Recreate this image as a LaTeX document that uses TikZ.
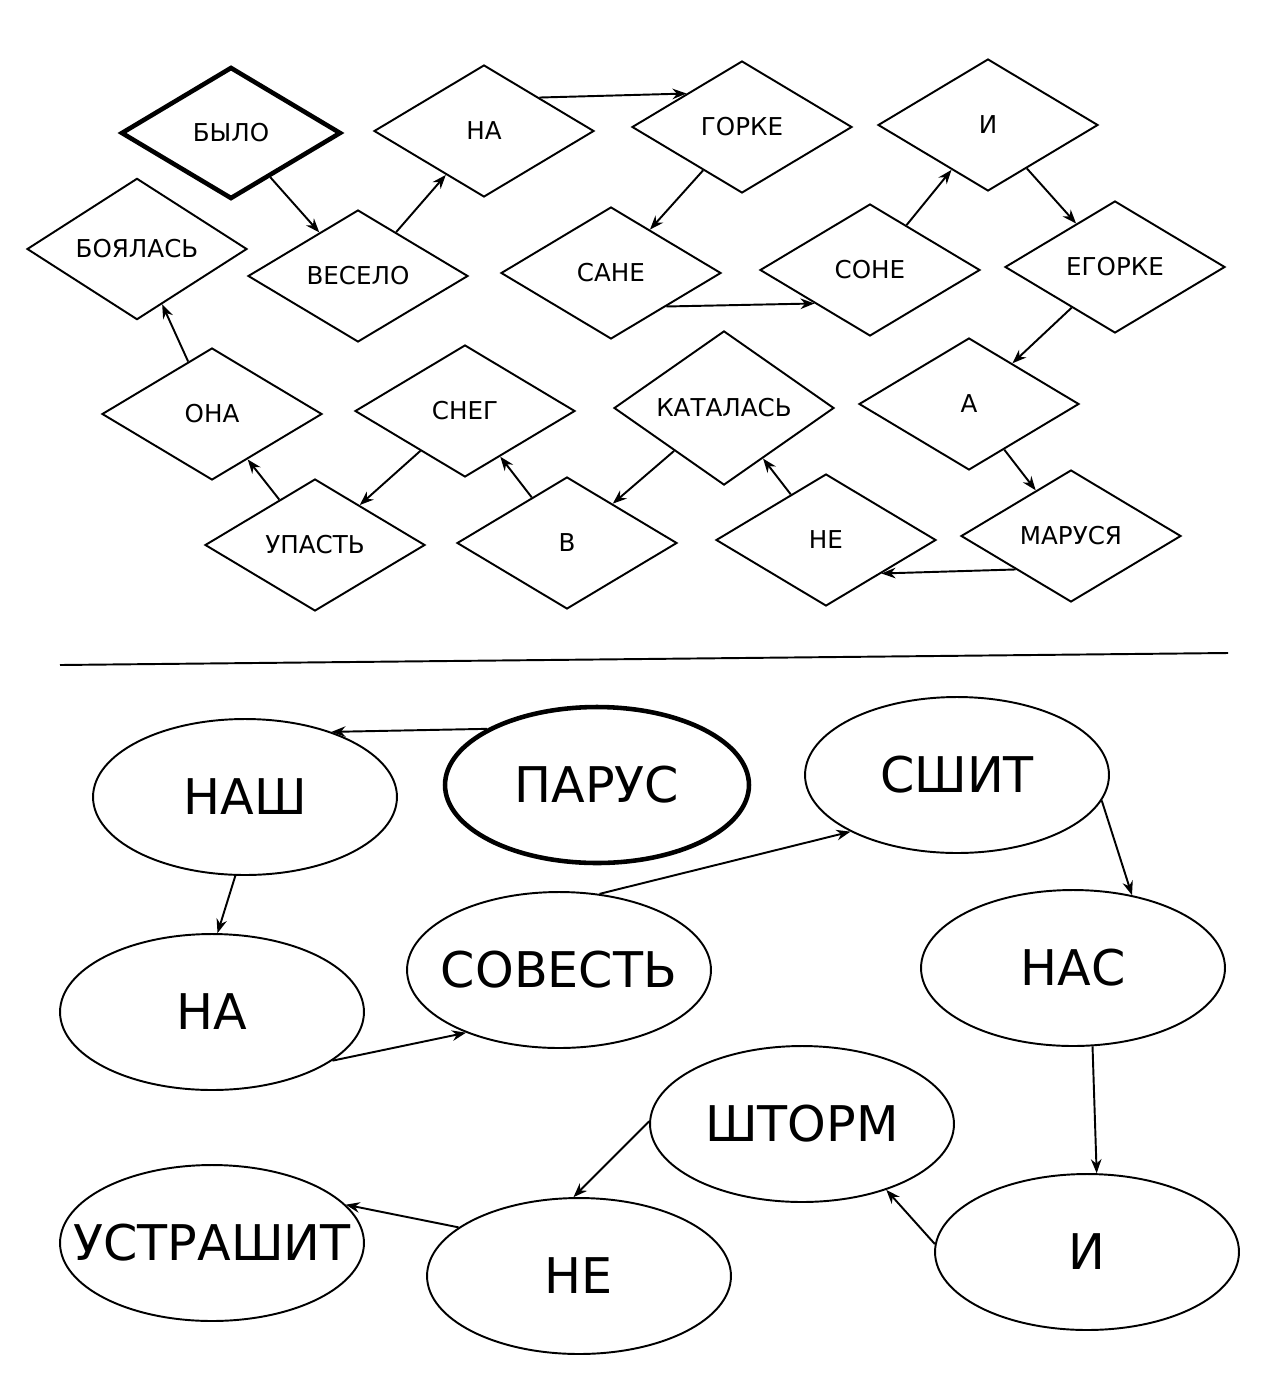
\documentclass[tikz,border=0pt]{standalone}
\usepackage{fontspec}
\setmainfont{DejaVu Sans}
\usetikzlibrary{shapes.geometric,arrows.meta}
\newcommand{\fix}[1]{\makebox[0pt]{#1}}
\begin{document}
\begin{tikzpicture}[x=0.02cm,y=-0.02cm,
  dia/.style={diamond,draw,line width=1.1pt,minimum width=4.4cm,minimum height=2.64cm,inner sep=0pt,font=\fontsize{14}{16}\selectfont},
  ell/.style={ellipse,draw,line width=1.1pt,minimum width=6.08cm,minimum height=3.12cm,inner sep=0pt,font=\fontsize{28}{30}\selectfont},
  bold/.style={line width=2.6pt},
  arr/.style={-{Stealth[length=8pt,width=6pt]},line width=1.1pt}]
\useasboundingbox (0,0) rectangle (1266,1400);
\node[dia,bold] (bylo) at (231,133) {БЫЛО};
\node[dia] (na) at (484,131) {НА};
\node[dia] (gorke) at (742,127) {ГОРКЕ};
\node[dia] (i) at (988,125) {И};
\node[dia] (boyalas) at (137,249) {БОЯЛАСЬ};
\node[dia] (veselo) at (358,276) {ВЕСЕЛО};
\node[dia] (sane) at (611,273) {САНЕ};
\node[dia] (sone) at (870,270) {СОНЕ};
\node[dia] (egorke) at (1115,267) {ЕГОРКЕ};
\node[dia] (ona) at (212,414) {ОНА};
\node[dia] (sneg) at (465,411) {СНЕГ};
\node[dia] (katalas) at (724,408) {КАТАЛАСЬ};
\node[dia] (a) at (969,404) {А};
\node[dia] (upast) at (315,545) {УПАСТЬ};
\node[dia] (v) at (567,543) {В};
\node[dia] (ne) at (826,540) {НЕ};
\node[dia] (marusya) at (1071,536) {МАРУСЯ};
\draw[arr] (bylo) -- (veselo);
\draw[arr] (veselo) -- (na);
\draw[arr] (na.north east) -- (gorke.north west);
\draw[arr] (gorke) -- (sane);
\draw[arr] (sane.south east) -- (sone.south west);
\draw[arr] (sone) -- (i);
\draw[arr] (i) -- (egorke);
\draw[arr] (egorke) -- (a);
\draw[arr] (a) -- (marusya);
\draw[arr] (marusya.south west) -- (ne.south east);
\draw[arr] (ne) -- (katalas);
\draw[arr] (katalas) -- (v);
\draw[arr] (v) -- (sneg);
\draw[arr] (sneg) -- (upast);
\draw[arr] (upast) -- (ona);
\draw[arr] (ona) -- (boyalas);
\coordinate (l1) at (60,665); \coordinate (l2) at (1228,653);
\draw[line width=1.1pt] (l1) -- (l2);
\node[ell] (nash) at (245,797) {\fix{НАШ}};
\node[ell,bold] (parus) at (597,785) {\fix{ПАРУС}};
\node[ell] (sshit) at (957,775) {\fix{СШИТ}};
\node[ell] (na2) at (212,1012) {\fix{НА}};
\node[ell] (sov) at (559,970) {\fix{СОВЕСТЬ}};
\node[ell] (nas) at (1073,968) {\fix{НАС}};
\node[ell] (shtorm) at (802,1124) {\fix{ШТОРМ}};
\node[ell] (ustr) at (212,1243) {\fix{УСТРАШИТ}};
\node[ell] (ne2) at (579,1276) {\fix{НЕ}};
\node[ell] (i2) at (1087,1252) {\fix{И}};
\draw[arr] (parus.153) -- (nash.37);
\draw[arr] (nash.-97) -- (na2.86);
\draw[arr] (na2.-22) -- (sov.-146);
\draw[arr] (sov.62) -- (sshit.-152);
\draw[arr] (sshit.-10) -- (nas.51);
\draw[arr] (nas.-76) -- (i2.83);
\draw[arr] (i2.177) -- (shtorm.-38);
\draw[arr] (shtorm.179) -- (ne2.94);
\draw[arr] (ne2.158) -- (ustr.16);
\end{tikzpicture}
\end{document}
